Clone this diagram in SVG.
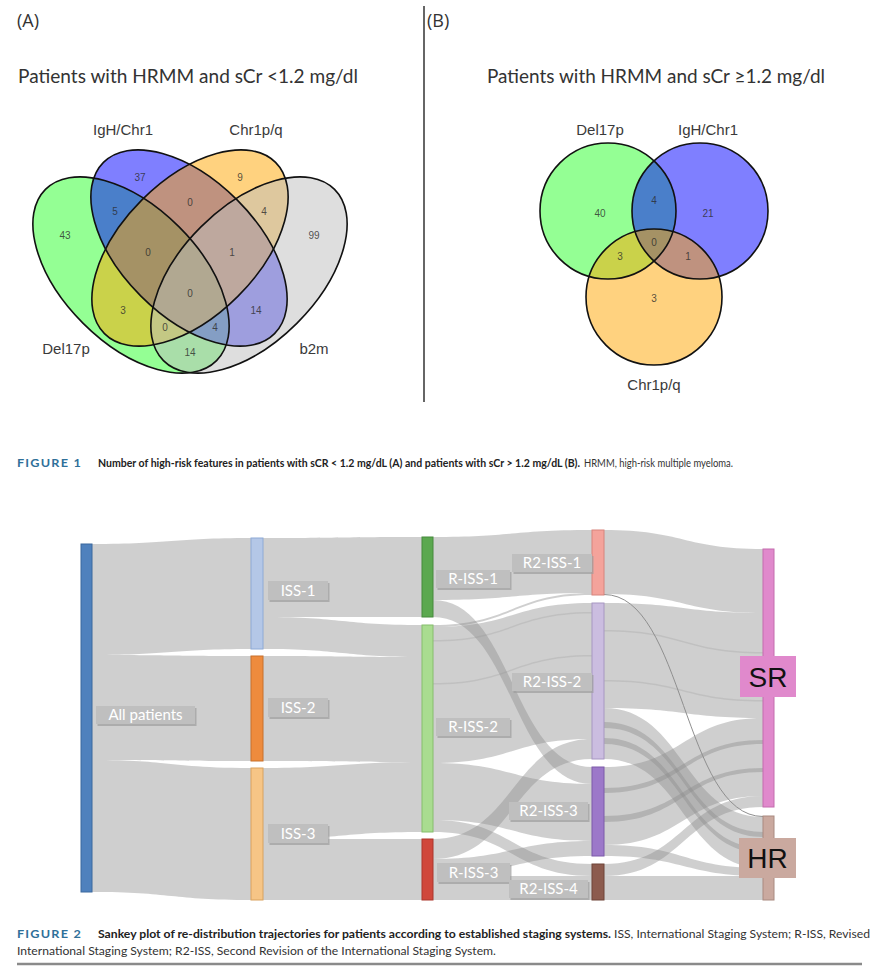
<svg xmlns="http://www.w3.org/2000/svg" width="878" height="976" viewBox="0 0 878 976">
<style>
.bg{fill:#ffffff}
.ttl{font-family:Lato,"Open Sans",sans-serif;font-size:18.5px;fill:#333}
.pan{font-family:"Open Sans",sans-serif;font-size:18px;fill:#333}
.vl{font-family:"Liberation Sans",Arial,sans-serif;font-size:15px;fill:#3a3a3a;text-anchor:middle}
.vn{font-family:"Liberation Sans",Arial,sans-serif;font-size:10px;fill:#2a2a2a;fill-opacity:.8;text-anchor:middle}
.vo{fill:none;stroke:#111;stroke-width:1.6}
.flow{fill:#8c8c8c;fill-opacity:.42;stroke:none}
.thin{fill:#8c8c8c;fill-opacity:.22;stroke:none}
.bar{stroke-width:1}
.lbx{fill:#bfbfbf}
.lsh{fill:#9d9d9d;fill-opacity:.7}
.lt{font-family:Lato,"Open Sans",sans-serif;font-size:15px;fill:#ffffff;text-anchor:middle}
.big{font-family:"Liberation Sans",Arial,sans-serif;font-size:28px;fill:#111;text-anchor:middle}
.fig{font-family:Lato,sans-serif;font-size:10.5px;font-weight:bold;fill:#2f7099;letter-spacing:1px}
.capb{font-family:Lato,sans-serif;font-size:10.5px;font-weight:bold;fill:#222}
.capn{font-family:Lato,sans-serif;font-size:10.5px;fill:#333}
</style>
<rect class="bg" x="0" y="0" width="878" height="976"/>

<!-- Panel A -->
<g id="panelA">
<text class="pan" x="17" y="27">(A)</text>
<text class="ttl" x="18" y="83" textLength="340" lengthAdjust="spacingAndGlyphs">Patients with HRMM and sCr &lt;1.2 mg/dl</text>
<g id="vennA">
<ellipse cx="131" cy="275" rx="121" ry="68" transform="rotate(45 131 275)" fill="#00ff00" fill-opacity=".42"/>
<ellipse cx="189" cy="248" rx="121" ry="68" transform="rotate(45 189 248)" fill="#0000ff" fill-opacity=".5"/>
<ellipse cx="190" cy="248" rx="121" ry="68" transform="rotate(-45 190 248)" fill="#ffa500" fill-opacity=".5"/>
<ellipse cx="249" cy="275" rx="121" ry="68" transform="rotate(-45 249 275)" fill="#bebebe" fill-opacity=".5"/>
<ellipse class="vo" cx="131" cy="275" rx="121" ry="68" transform="rotate(45 131 275)"/>
<ellipse class="vo" cx="189" cy="248" rx="121" ry="68" transform="rotate(45 189 248)"/>
<ellipse class="vo" cx="190" cy="248" rx="121" ry="68" transform="rotate(-45 190 248)"/>
<ellipse class="vo" cx="249" cy="275" rx="121" ry="68" transform="rotate(-45 249 275)"/>
<text class="vn" x="140" y="181">37</text>
<text class="vn" x="240" y="181">9</text>
<text class="vn" x="115" y="215">5</text>
<text class="vn" x="190" y="206">0</text>
<text class="vn" x="264" y="215">4</text>
<text class="vn" x="65" y="239">43</text>
<text class="vn" x="314" y="239">99</text>
<text class="vn" x="148" y="256">0</text>
<text class="vn" x="232" y="256">1</text>
<text class="vn" x="190" y="297">0</text>
<text class="vn" x="123" y="314">3</text>
<text class="vn" x="256" y="314">14</text>
<text class="vn" x="165" y="331">0</text>
<text class="vn" x="215" y="331">4</text>
<text class="vn" x="190" y="356">14</text>
<text class="vl" x="123" y="135">IgH/Chr1</text>
<text class="vl" x="256" y="135">Chr1p/q</text>
<text class="vl" x="66" y="354">Del17p</text>
<text class="vl" x="314" y="354">b2m</text>
</g>
</g>

<line x1="424" y1="6" x2="424" y2="402" stroke="#666" stroke-width="2"/>

<!-- Panel B -->
<g id="panelB">
<text class="pan" x="427" y="27">(B)</text>
<text class="ttl" x="487" y="83" textLength="338" lengthAdjust="spacingAndGlyphs">Patients with HRMM and sCr ≥1.2 mg/dl</text>
<g id="vennB">
<circle cx="608" cy="211" r="68" fill="#00ff00" fill-opacity=".42"/>
<circle cx="700" cy="211" r="68" fill="#0000ff" fill-opacity=".5"/>
<circle cx="654" cy="297" r="68" fill="#ffa500" fill-opacity=".5"/>
<circle class="vo" cx="608" cy="211" r="68"/>
<circle class="vo" cx="700" cy="211" r="68"/>
<circle class="vo" cx="654" cy="297" r="68"/>
<text class="vn" x="600" y="217">40</text>
<text class="vn" x="654" y="204">4</text>
<text class="vn" x="708" y="217">21</text>
<text class="vn" x="654" y="246">0</text>
<text class="vn" x="620" y="260">3</text>
<text class="vn" x="688" y="260">1</text>
<text class="vn" x="654" y="302">3</text>
<text class="vl" x="600" y="135">Del17p</text>
<text class="vl" x="708" y="135">IgH/Chr1</text>
<text class="vl" x="654" y="390">Chr1p/q</text>
</g>
</g>

<g id="caption1">
<text class="fig" x="17" y="467" textLength="65" lengthAdjust="spacingAndGlyphs">FIGURE 1</text>
<text class="capb" x="98" y="467" textLength="482" lengthAdjust="spacingAndGlyphs">Number of high-risk features in patients with sCR &lt; 1.2 mg/dL (A) and patients with sCr &gt; 1.2 mg/dL (B).</text>
<text class="capn" x="584" y="467" textLength="149" lengthAdjust="spacingAndGlyphs">HRMM, high-risk multiple myeloma.</text>
</g>

<!-- Sankey connectors -->
<g id="connectors">
<path class="flow" d="M92,544 C171.5,544 171.5,538 251,538 L251,649 C171.5,649 171.5,655 92,655 Z"/>
<path class="flow" d="M92,655 C171.5,655 171.5,656 251,656 L251,761 C171.5,761 171.5,760 92,760 Z"/>
<path class="flow" d="M92,760 C171.5,760 171.5,768 251,768 L251,900 C171.5,900 171.5,892 92,892 Z"/>

<path class="flow" d="M263,538 C342.5,538 342.5,537 422,537 L422,617 C342.5,617 342.5,617 263,617 Z"/>
<path class="flow" d="M263,617 C342.5,617 342.5,625 422,625 L422,657 C342.5,657 342.5,649 263,649 Z"/>
<path class="flow" d="M263,656 C342.5,656 342.5,657 422,657 L422,762 C342.5,762 342.5,761 263,761 Z"/>
<path class="flow" d="M263,768 C342.5,768 342.5,762 422,762 L422,832 C342.5,832 342.5,839 263,839 Z"/>
<path class="flow" d="M263,839 C342.5,839 342.5,839 422,839 L422,900 C342.5,900 342.5,900 263,900 Z"/>

<path class="flow" d="M433,537 C512.5,537 512.5,530 592,530 L592,593 C512.5,593 512.5,600 433,600 Z"/>
<path class="flow" d="M433,600 C512.5,600 512.5,767 592,767 L592,784 C512.5,784 512.5,617 433,617 Z"/>
<path class="flow" d="M433,625 C512.5,625 512.5,593 592,593 L592,595 C512.5,595 512.5,627 433,627 Z"/>
<path class="flow" d="M433,627 C512.5,627 512.5,603 592,603 L592,739 C512.5,739 512.5,763 433,763 Z"/>
<path class="flow" d="M433,763 C512.5,763 512.5,784 592,784 L592,841 C512.5,841 512.5,820 433,820 Z"/>
<path class="flow" d="M433,820 C512.5,820 512.5,864 592,864 L592,876 C512.5,876 512.5,832 433,832 Z"/>
<path class="flow" d="M433,839 C512.5,839 512.5,739 592,739 L592,759 C512.5,759 512.5,859 433,859 Z"/>
<path class="flow" d="M433,859 C512.5,859 512.5,841 592,841 L592,856 C512.5,856 512.5,876 433,876 Z"/>
<path class="flow" d="M433,876 C512.5,876 512.5,876 592,876 L592,900 C512.5,900 512.5,900 433,900 Z"/>
<path class="thin" d="M433,640 C512.5,640 512.5,612 592,612 L592,613.5 C512.5,613.5 512.5,641.5 433,641.5 Z"/>
<path class="thin" d="M433,683 C512.5,683 512.5,655 592,655 L592,656.5 C512.5,656.5 512.5,684.5 433,684.5 Z"/>

<path class="flow" d="M604,530 C683.5,530 683.5,549 763,549 L763,613 C683.5,613 683.5,594 604,594 Z"/>
<path class="flow" d="M604,603 C683.5,603 683.5,613 763,613 L763,718 C683.5,718 683.5,708 604,708 Z"/>
<path class="flow" d="M604,708 C683.5,708 683.5,817 763,817 L763,837 C683.5,837 683.5,728 604,728 Z"/>
<path class="flow" d="M604,722 C683.5,722 683.5,832 763,832 L763,853 C683.5,853 683.5,744 604,744 Z"/>
<path class="flow" d="M604,738 C683.5,738 683.5,848 763,848 L763,868 C683.5,868 683.5,759 604,759 Z"/>
<path class="flow" d="M604,767 C683.5,767 683.5,718 763,718 L763,744 C683.5,744 683.5,793 604,793 Z"/>
<path class="flow" d="M604,788 C683.5,788 683.5,740 763,740 L763,772 C683.5,772 683.5,822 604,822 Z"/>
<path class="flow" d="M604,816 C683.5,816 683.5,768 763,768 L763,796 C683.5,796 683.5,845 604,845 Z"/>
<path class="flow" d="M604,845 C683.5,845 683.5,868 763,868 L763,876 C683.5,876 683.5,856 604,856 Z"/>
<path class="flow" d="M604,864 C683.5,864 683.5,796 763,796 L763,807 C683.5,807 683.5,876 604,876 Z"/>
<path class="flow" d="M604,876 C683.5,876 683.5,876 763,876 L763,900 C683.5,900 683.5,900 604,900 Z"/>
<path class="thin" d="M604,630 C683.5,630 683.5,652 763,652 L763,653.5 C683.5,653.5 683.5,631.5 604,631.5 Z"/>
<path class="thin" d="M604,680 C683.5,680 683.5,700 763,700 L763,701.5 C683.5,701.5 683.5,681.5 604,681.5 Z"/>
<path d="M604,594.5 C683.5,594.5 683.5,816.5 763,816.5" fill="none" stroke="#8f8f8f" stroke-width="1"/>
</g>

<!-- Sankey nodes -->
<g id="node-all">
<rect class="bar" x="81" y="544" width="11" height="348" fill="#4f81bd" stroke="#3b689e"/>
<rect class="lsh" x="97.5" y="708" width="99" height="18"/>
<rect class="lbx" x="96" y="706" width="99" height="18"/>
<text class="lt" x="145.5" y="720">All patients</text>
</g>
<g id="node-iss1">
<rect class="bar" x="251" y="538" width="12" height="111" fill="#b4c7e7" stroke="#8eaad6"/>
<rect class="lsh" x="269.5" y="583" width="60" height="19"/>
<rect class="lbx" x="268" y="581" width="60" height="19"/>
<text class="lt" x="298" y="596">ISS-1</text>
</g>
<g id="node-iss2">
<rect class="bar" x="251" y="656" width="12" height="105" fill="#ee8b3d" stroke="#c8702c"/>
<rect class="lsh" x="269.5" y="700" width="60" height="19"/>
<rect class="lbx" x="268" y="698" width="60" height="19"/>
<text class="lt" x="298" y="713">ISS-2</text>
</g>
<g id="node-iss3">
<rect class="bar" x="251" y="768" width="12" height="132" fill="#f6c586" stroke="#d9a25e"/>
<rect class="lsh" x="269.5" y="826" width="60" height="19"/>
<rect class="lbx" x="268" y="824" width="60" height="19"/>
<text class="lt" x="298" y="839">ISS-3</text>
</g>
<g id="node-riss1">
<rect class="bar" x="422" y="537" width="11" height="80" fill="#5ba84f" stroke="#468a3c"/>
<rect class="lsh" x="437.5" y="572" width="74" height="18"/>
<rect class="lbx" x="436" y="570" width="74" height="18"/>
<text class="lt" x="473" y="584">R-ISS-1</text>
</g>
<g id="node-riss2">
<rect class="bar" x="422" y="625" width="11" height="207" fill="#a9dc90" stroke="#86be6c"/>
<rect class="lsh" x="437.5" y="720" width="74" height="18"/>
<rect class="lbx" x="436" y="718" width="74" height="18"/>
<text class="lt" x="473" y="732">R-ISS-2</text>
</g>
<g id="node-riss3">
<rect class="bar" x="422" y="839" width="11" height="61" fill="#d0473b" stroke="#ab362c"/>
<rect class="lsh" x="438.5" y="865" width="73" height="19"/>
<rect class="lbx" x="437" y="863" width="73" height="19"/>
<text class="lt" x="473.5" y="878">R-ISS-3</text>
</g>
<g id="node-r2iss1">
<rect class="bar" x="592" y="530" width="12" height="65" fill="#f4a39b" stroke="#d7847c"/>
<rect class="lsh" x="513.5" y="556" width="80" height="18"/>
<rect class="lbx" x="512" y="554" width="80" height="18"/>
<text class="lt" x="552" y="568">R2-ISS-1</text>
</g>
<g id="node-r2iss2">
<rect class="bar" x="592" y="603" width="12" height="156" fill="#cbbde0" stroke="#a797c2"/>
<rect class="lsh" x="513.5" y="675" width="80" height="18"/>
<rect class="lbx" x="512" y="673" width="80" height="18"/>
<text class="lt" x="552" y="687">R2-ISS-2</text>
</g>
<g id="node-r2iss3">
<rect class="bar" x="592" y="767" width="12" height="89" fill="#9c78c9" stroke="#7d5aa9"/>
<rect class="lsh" x="510.5" y="804" width="79" height="18"/>
<rect class="lbx" x="509" y="802" width="79" height="18"/>
<text class="lt" x="548.5" y="816">R2-ISS-3</text>
</g>
<g id="node-r2iss4">
<rect class="bar" x="592" y="864" width="12" height="36" fill="#8c5b4e" stroke="#6e4539"/>
<rect class="lsh" x="510.5" y="882" width="79" height="18"/>
<rect class="lbx" x="509" y="880" width="79" height="18"/>
<text class="lt" x="548.5" y="894">R2-ISS-4</text>
</g>
<g id="node-sr">
<rect class="bar" x="763" y="549" width="11" height="258" fill="#e089cc" stroke="#c46cae"/>
<rect x="740" y="656" width="56" height="41" fill="#e089cc"/>
<text class="big" x="768" y="687">SR</text>
</g>
<g id="node-hr">
<rect class="bar" x="763" y="816" width="11" height="84" fill="#caa99f" stroke="#a98a80"/>
<rect x="739" y="838" width="57" height="40" fill="#caa99f"/>
<text class="big" x="767.5" y="868">HR</text>
</g>

<g id="caption2">
<text class="fig" x="17" y="938" textLength="65" lengthAdjust="spacingAndGlyphs">FIGURE 2</text>
<text class="capb" x="98" y="938" textLength="513" lengthAdjust="spacingAndGlyphs">Sankey plot of re-distribution trajectories for patients according to established staging systems.</text>
<text class="capn" x="614" y="938" textLength="256" lengthAdjust="spacingAndGlyphs">ISS, International Staging System; R-ISS, Revised</text>
<text class="capn" x="17" y="955" textLength="479" lengthAdjust="spacingAndGlyphs">International Staging System; R2-ISS, Second Revision of the International Staging System.</text>
<line x1="17" y1="964" x2="862" y2="964" stroke="#8a8a8a" stroke-width="2.5"/>
</g>
</svg>
